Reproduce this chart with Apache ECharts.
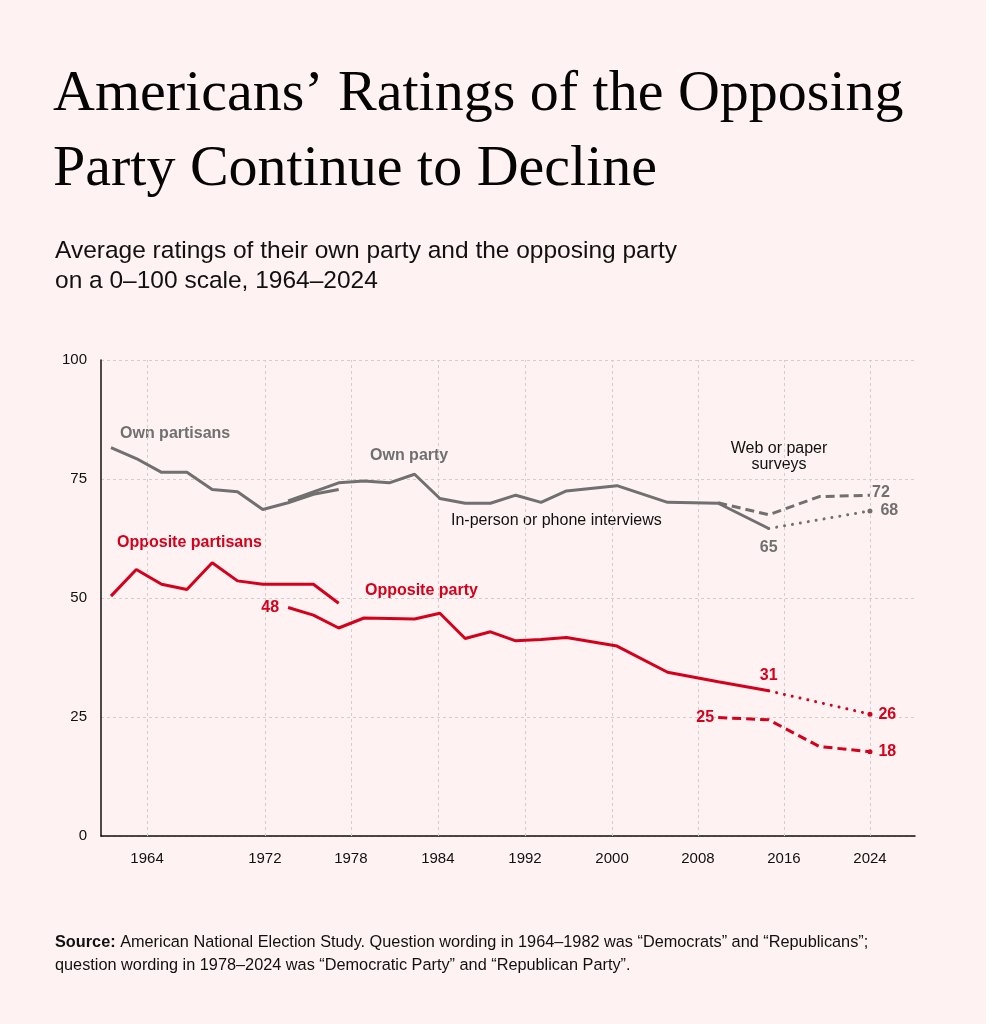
<!DOCTYPE html>
<html>
<head>
    <meta charset="utf-8">
    <title>Ratings of the opposing party</title>
    <style>
    html,body { height:100%; width:100%; margin:0; padding:0; background:#fef2f2; }
    #main { width:986px; height:1024px; }
    </style>
</head>
<body>
<div id="main"></div>
<script src="https://cdn.jsdelivr.net/npm/echarts@6/dist/echarts.min.js"></script>
<script type="text/javascript">
    // data
    var yearsPartisans = [1964, 1966, 1968, 1970, 1972, 1974, 1976, 1978, 1980, 1982];
    var ownPartisans   = [81.6, 79.3, 76.4, 76.4, 72.8, 72.3, 68.6, 70.0, 71.8, 72.8];
    var oppPartisans   = [50.4, 56.0, 52.9, 51.8, 57.4, 53.6, 52.9, 52.9, 52.9, 48.9];

    var yearsParty = [1978, 1980, 1982, 1984, 1986, 1988, 1990, 1992, 1994, 1996, 1998, 2000, 2004, 2008, 2012, 2016];
    var ownParty   = [70.4, 72.3, 74.2, 74.6, 74.2, 76.0, 70.9, 69.9, 69.9, 71.6, 70.1, 72.5, 73.6, 70.1, 69.9, 64.6];
    var oppParty   = [48.0, 46.4, 43.7, 45.8, 45.7, 45.6, 46.8, 41.5, 42.9, 41.0, 41.3, 41.7, 39.9, 34.4, 32.4, 30.5];

    // in-person / phone continuation
    var yearsInPerson = [2016, 2024];
    var ownInPerson   = [64.6, 68.3];
    var oppInPerson   = [30.5, 25.6];

    // web or paper surveys
    var yearsWeb = [2012, 2016, 2020, 2024];
    var ownWeb   = [70.0, 67.5, 71.3, 71.6];
    var oppWeb   = [24.9, 24.4, 18.8, 17.7];

    // x tick labels, and where the picture puts them on the year scale
    var tickLabels = ['1964', '1972', '1978', '1984', '1992', '2000', '2008', '2016', '2024'];
    var tickAt     = [1966.85, 1976.16, 1982.96, 1989.84, 1996.73, 2003.61, 2010.40, 2017.20, 2024.0];

    var GRAY = '#707070', RED = '#d5001c', INK = '#111111';
    var SANS = '"Liberation Sans", Arial, sans-serif';

    // build one line series; labels = {index: [position, distance]}
    function makeLine(name, xs, ys, color, dash, labels, endDot) {
        var dotted = dash === 'dotted';
        return {
            type: 'line',
            name: name,
            symbol: 'none',
            z: 3,
            lineStyle: {
                color: color,
                width: 3,
                type: dotted ? [0.01, 8] : (dash === 'dashed' ? [9, 5] : 'solid'),
                cap: dotted ? 'round' : 'butt'
            },
            data: xs.map(function (x, i) {
                var item = { value: [x, ys[i]] };
                var last = i === xs.length - 1;
                if ((labels && labels[i]) || (endDot && last)) {
                    item.symbol = 'circle';
                    item.symbolSize = (endDot && last) ? 5 : 0.1;
                    item.itemStyle = { color: color, borderWidth: 0 };
                }
                if (labels && labels[i]) {
                    item.label = {
                        show: true,
                        position: labels[i][0],
                        distance: labels[i][1],
                        formatter: function (p) { return Math.round(p.value[1]); },
                        color: color,
                        fontFamily: SANS,
                        fontSize: 16,
                        fontWeight: 'bold'
                    };
                }
                return item;
            })
        };
    }

    var myChart = echarts.init(document.getElementById('main'));

    var series = [
        {
            // vertical dotted grid lines and year labels
            type: 'line',
            data: [],
            silent: true,
            z: 1,
            markLine: {
                silent: true,
                z: 1,
                symbol: ['none', 'none'],
                animation: false,
                lineStyle: { color: '#cfcfcf', width: 1, type: [3, 3] },
                label: {
                    show: true,
                    position: 'start',
                    distance: 15,
                    formatter: '{b}',
                    color: INK,
                    fontFamily: SANS,
                    fontSize: 15
                },
                data: tickAt.map(function (v, i) { return { xAxis: v, name: tickLabels[i] }; })
            }
        },
        makeLine('Own partisans', yearsPartisans, ownPartisans, GRAY, 'solid'),
        makeLine('Own party', yearsParty, ownParty, GRAY, 'solid', { 15: ['bottom', 11] }),
        makeLine('Own party web', yearsWeb, ownWeb, GRAY, 'dashed', { 3: ['right', 2] }),
        makeLine('Own party in person', yearsInPerson, ownInPerson, GRAY, 'dotted', { 1: ['right', 8] }, true),
        makeLine('Opposite partisans', yearsPartisans, oppPartisans, RED, 'solid'),
        makeLine('Opposite party', yearsParty, oppParty, RED, 'solid', { 0: ['left', 9], 15: ['top', 7] }),
        makeLine('Opposite party web', yearsWeb, oppWeb, RED, 'dashed', { 0: ['left', 4], 3: ['right', 6] }, true),
        makeLine('Opposite party in person', yearsInPerson, oppInPerson, RED, 'dotted', { 1: ['right', 6] }, true)
    ];
    // the web line for own party ends a little above its label
    series[3].data[3].label.offset = [0, -3];

    function note(text, x, y, color, bold, align) {
        return {
            type: 'text',
            x: x,
            y: y,
            silent: true,
            style: {
                text: text,
                fill: color,
                font: (bold ? 'bold ' : '') + '16px ' + SANS,
                align: align || 'left',
                verticalAlign: 'middle',
                lineHeight: 16
            }
        };
    }

    var options = {
        backgroundColor: '#fef2f2',
        animation: false,
        title: [
            {
                text: 'Americans’ Ratings of the Opposing\nParty Continue to Decline',
                left: 53,
                top: 57,
                padding: 0,
                textStyle: {
                    fontFamily: '"Liberation Serif", "Times New Roman", serif',
                    fontSize: 58,
                    fontWeight: 'normal',
                    lineHeight: 75,
                    color: '#050505'
                }
            },
            {
                text: 'Average ratings of their own party and the opposing party\non a 0–100 scale, 1964–2024',
                left: 55,
                top: 236,
                padding: 0,
                textStyle: {
                    fontFamily: SANS,
                    fontSize: 24.5,
                    fontWeight: 'normal',
                    lineHeight: 30,
                    color: INK
                }
            },
            {
                text: '{b|Source:} American National Election Study. Question wording in 1964–1982 was “Democrats” and “Republicans”;\nquestion wording in 1978–2024 was “Democratic Party” and “Republican Party”.',
                left: 55,
                top: 931,
                padding: 0,
                textStyle: {
                    fontFamily: SANS,
                    fontSize: 16.3,
                    fontWeight: 'normal',
                    lineHeight: 23,
                    color: INK,
                    rich: {
                        b: { fontFamily: SANS, fontSize: 16.3, fontWeight: 'bold', color: INK }
                    }
                }
            }
        ],
        grid: {
            left: 101,
            right: 71,
            top: 360,
            bottom: 188
        },
        xAxis: {
            type: 'value',
            min: 1963.21,
            max: 2027.56,
            axisLine: { show: true, lineStyle: { color: INK, width: 1.5 } },
            axisTick: { show: false },
            axisLabel: { show: false },
            splitLine: { show: false }
        },
        yAxis: {
            type: 'value',
            min: 0,
            max: 100,
            interval: 25,
            axisLine: { show: true, lineStyle: { color: INK, width: 1.5 } },
            axisTick: { show: false },
            axisLabel: { color: INK, fontFamily: SANS, fontSize: 15, margin: 14 },
            splitLine: { show: true, lineStyle: { color: '#cfcfcf', width: 1, type: [3, 3] } }
        },
        graphic: [
            note('Own partisans', 120, 434, GRAY, true),
            note('Own party', 370, 456, GRAY, true),
            note('Opposite partisans', 117, 543, RED, true),
            note('Opposite party', 365, 591, RED, true),
            note('In-person or phone interviews', 451, 521, INK, false),
            note('Web or paper\nsurveys', 779, 457, INK, false, 'center')
        ],
        series: series
    };

    myChart.setOption(options);
</script>
</body>
</html>
